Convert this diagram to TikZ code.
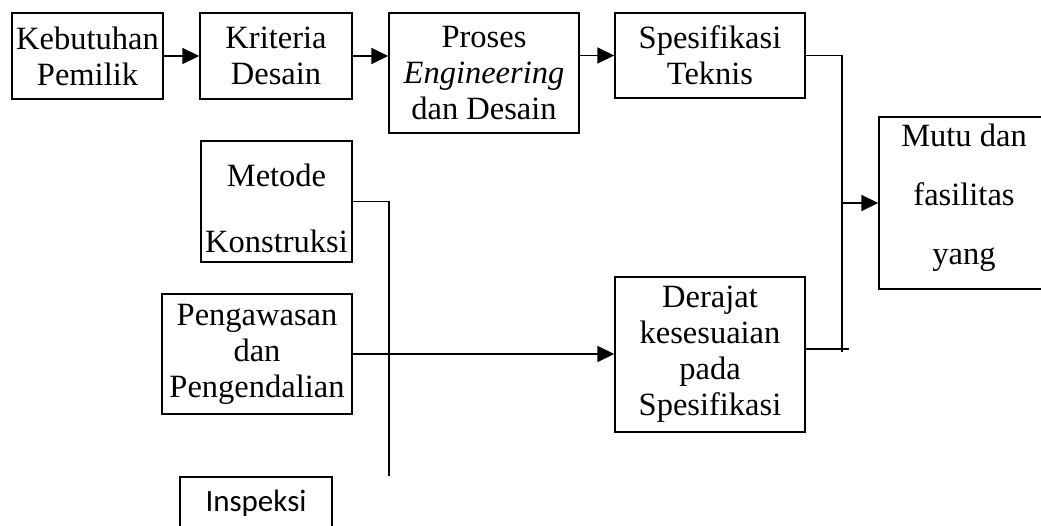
\documentclass[tikz,border=0pt]{standalone}
\usepackage{fontspec}
\setmainfont{Liberation Serif}
\newfontfamily\calibri{Carlito}
\usetikzlibrary{arrows.meta}

\begin{document}
\begin{tikzpicture}[x=1pt,y=-1pt,
  kotak/.style={draw=black,line width=1.4pt,inner sep=0pt,align=center,
    font=\fontsize{32.5}{36}\selectfont},
  garis/.style={line width=1.6pt},
  panah/.style={garis,-{Triangle[length=17pt,width=16pt]}}]
  \useasboundingbox (0,0) rectangle (1041,526);

  % Baris atas: alur desain
  \node[kotak,minimum width=151,minimum height=86] (keb) at (87.5,56) {Kebutuhan\\Pemilik};
  \node[kotak,minimum width=152,minimum height=86] (kri) at (276,56) {Kriteria\\Desain};
  \node[kotak,minimum width=190,minimum height=120] (pro) at (484,73) {Proses\\\textit{Engineering}\\dan Desain};
  \node[kotak,minimum width=190,minimum height=85] (spe) at (710,55.5) {Spesifikasi\\Teknis};

  % Hasil akhir (terpotong di tepi kanan)
  \node[kotak,minimum width=170,minimum height=172,text depth=17pt] (mut) at (964,203) {Mutu dan\\[23pt]fasilitas\\[23pt]yang};

  % Kotak-kotak pelaksanaan
  \node[kotak,minimum width=151,minimum height=121,text height=102pt] (met) at (276.5,201.5) {Metode\\[30pt]Konstruksi};
  \node[kotak,minimum width=190,minimum height=120] (pen) at (257,354) {Pengawasan\\dan\\Pengendalian};
  \node[kotak,minimum width=190,minimum height=155] (der) at (710,354.5) {Derajat\\kesesuaian\\pada\\Spesifikasi};
  \node[kotak,minimum width=152,minimum height=52,font=\calibri\fontsize{31}{36}\selectfont] (ins) at (256,503) {Inspeksi};

  % Titik bantu garis
  \coordinate (cabang) at (842,203);
  \coordinate (ujung) at (842,352);
  \coordinate (ekor) at (849,349);
  \coordinate (tiang) at (389,476);

  % Panah alur atas
  \draw[panah] (keb.east) -- (kri.west);
  \draw[panah] (kri.east) -- (kri.east -| pro.west);
  \draw[panah] (pro.east |- spe.west) -- (spe.west);

  % Pertemuan menuju mutu
  \draw[garis] (spe.east) -| (ujung);
  \draw[garis] (der.east |- ekor) -- (ekor);
  \draw[panah] (cabang) -- (mut.west);

  % Garis dari metode dan pengawasan
  \draw[garis] (met.east) -| (tiang);
  \draw[panah] (pen.east) -- (pen.east -| der.west);
\end{tikzpicture}
\end{document}
